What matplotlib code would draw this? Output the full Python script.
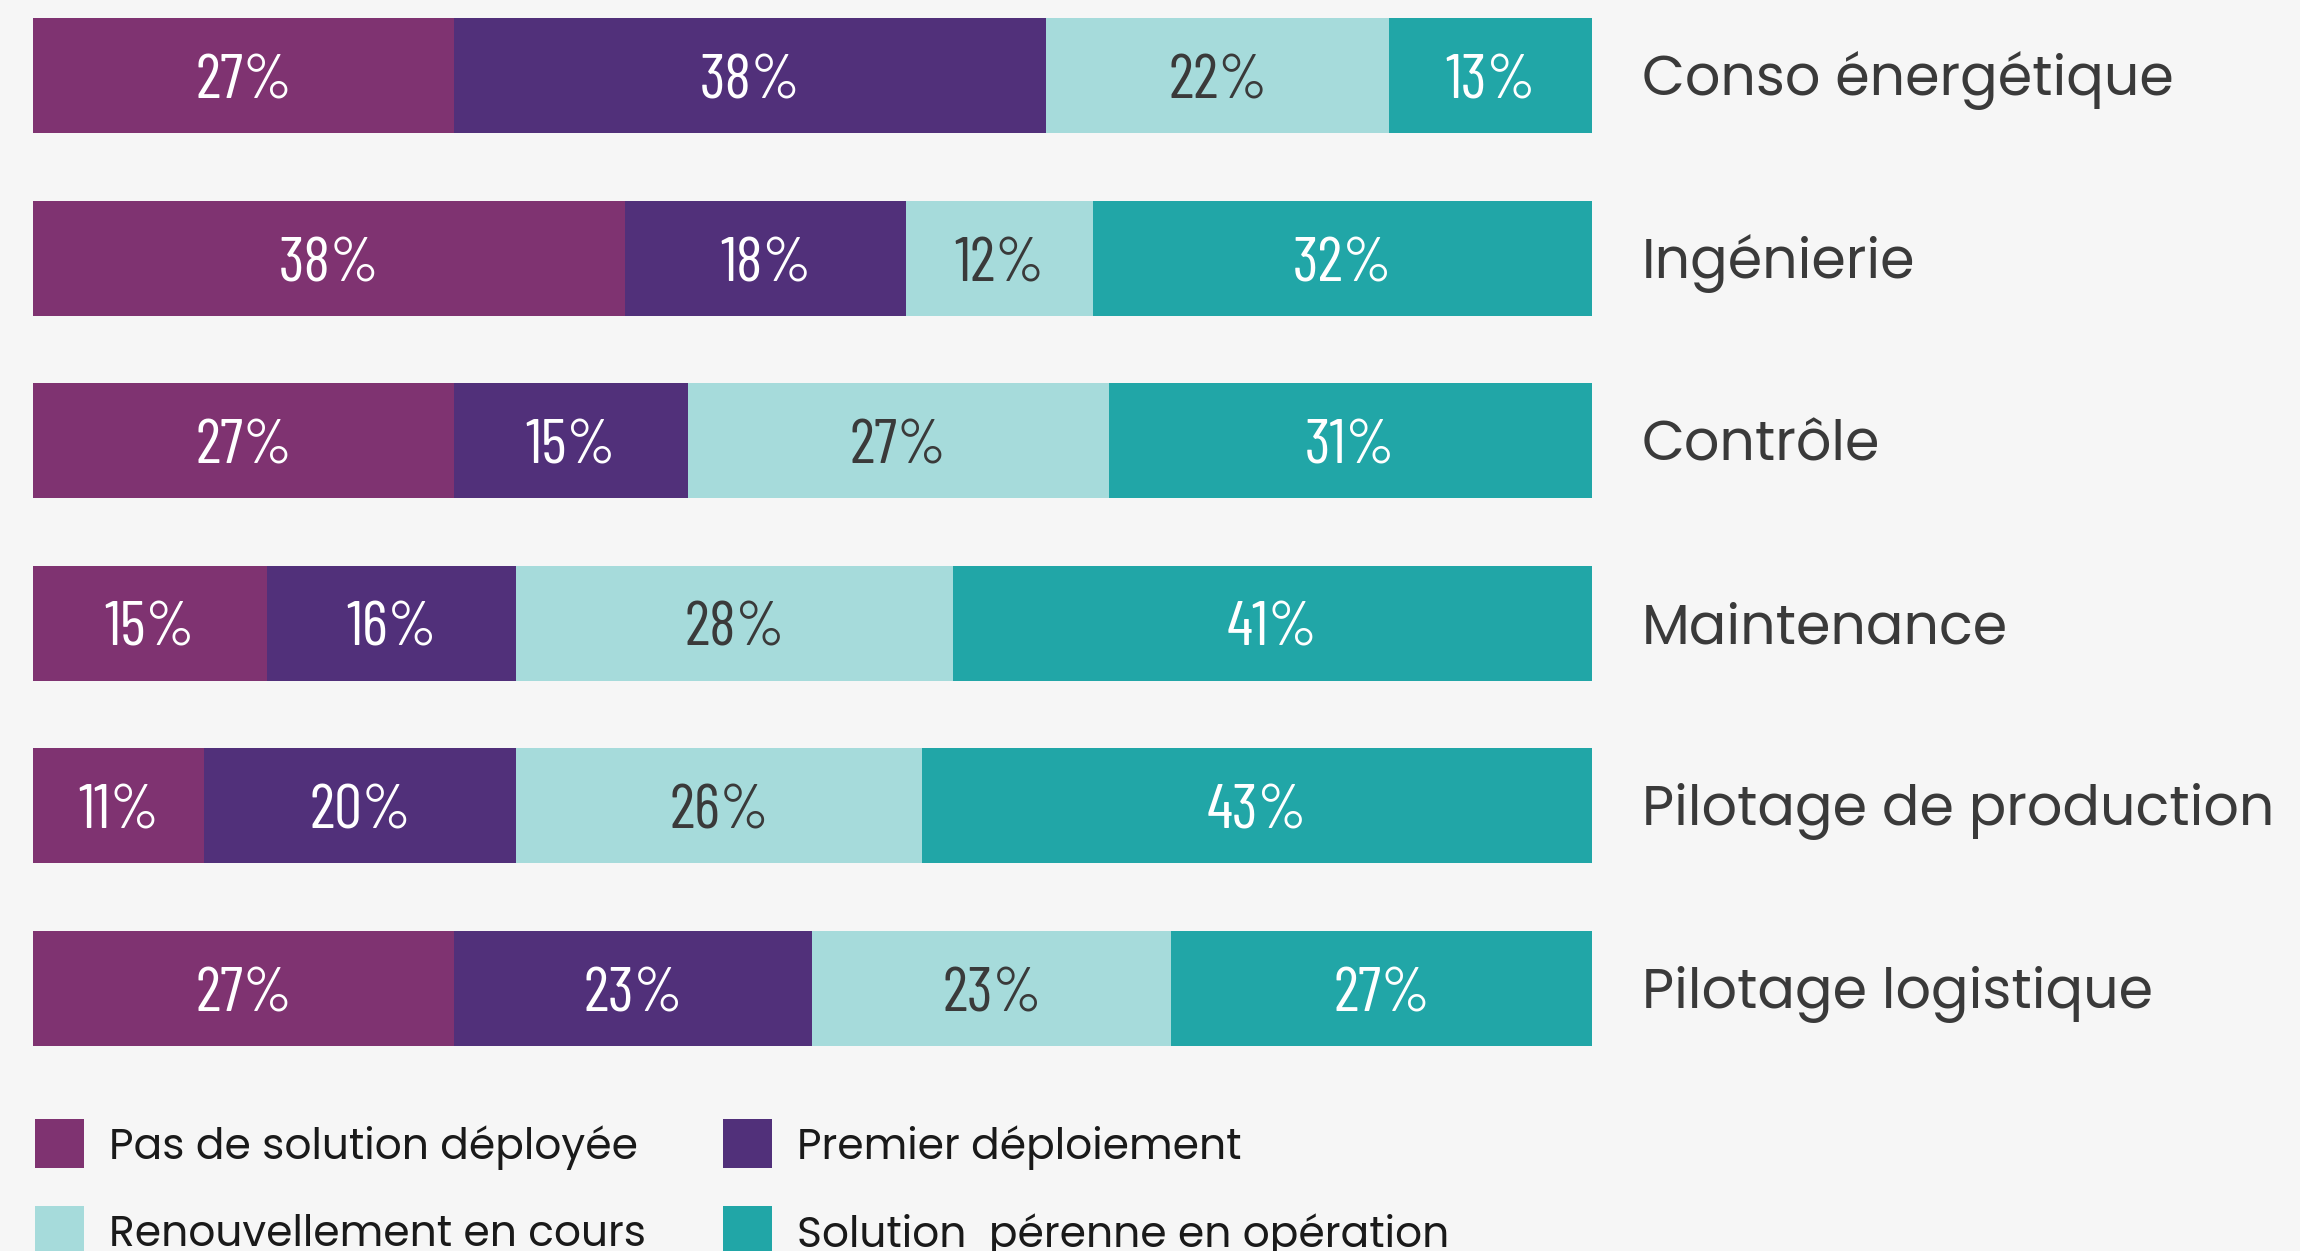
import matplotlib
matplotlib.use("Agg")
import matplotlib.pyplot as plt
from matplotlib.patches import Rectangle
import numpy as np

categories = ["Conso énergétique", "Ingénierie", "Contrôle", "Maintenance",
              "Pilotage de production", "Pilotage logistique"]
series_names = ["Pas de solution déployée", "Premier déploiement",
                "Renouvellement en cours", "Solution  pérenne en opération"]
pas_de_solution = [27, 38, 27, 15, 11, 27]
premier_deploiement = [38, 18, 15, 16, 20, 23]
renouvellement = [22, 12, 27, 28, 26, 23]
solution_perenne = [13, 32, 31, 41, 43, 27]

colors = ["#7F3371", "#51307A", "#A6DBDB", "#21A6A7"]
text_colors = ["white", "white", "#3a3a3a", "white"]
bg = "#F6F6F6"

num_font = ["Barlow Condensed", "DejaVu Sans"]
label_font = ["Poppins", "DejaVu Sans"]

W, H = 2300, 1251
fig = plt.figure(figsize=(W / 100, H / 100), dpi=100, facecolor=bg)

x0, x1 = 33, 1592
ax = fig.add_axes([x0 / W, 0, (x1 - x0) / W, 1])
ax.set_facecolor(bg)
step = 182.5
first_center = 75.5
ax.set_xlim(0, 100)
ax.set_ylim(5 + (H - (first_center + 5 * step)) / step, -first_center / step)
ax.axis("off")

px = 72 / 100  # pixels -> points

y = np.arange(len(categories))
left = np.zeros(len(categories))
all_series = [pas_de_solution, premier_deploiement, renouvellement, solution_perenne]
for vals, col, tcol in zip(all_series, colors, text_colors):
    vals = np.array(vals, dtype=float)
    ax.barh(y, vals, left=left, height=115 / step, color=col, linewidth=0)
    for yi, l, v in zip(y, left, vals):
        ax.annotate(f"{int(v)}%", xy=(l + v / 2, yi), xytext=(0, -23 * px),
                    textcoords="offset points", ha="center", va="baseline",
                    fontsize=45, color=tcol, family=num_font, fontweight="normal")
    left += vals

for yi, cat in zip(y, categories):
    ax.annotate(cat, xy=(100, yi), xytext=(50 * px, -20 * px),
                textcoords="offset points", ha="left", va="baseline",
                fontsize=40, color="#3a3a3a", family=label_font,
                fontweight="normal", annotation_clip=False)

# legend, two columns
leg_x = [35, 723]
leg_y = [1119, 1206]
size = 49
for k, (name, col) in enumerate(zip(series_names, colors)):
    r, c = divmod(k, 2)
    lx, ly = leg_x[c], leg_y[r]
    fig.patches.append(Rectangle((lx / W, 1 - (ly + size) / H), size / W, size / H,
                                 transform=fig.transFigure, color=col, linewidth=0))
    fig.text((lx + 74) / W, 1 - (ly + size / 2 + 16) / H, name, ha="left",
             va="baseline", fontsize=30.5, color="#1a1a1a", family=label_font,
             fontweight="normal")

fig.savefig("out.png", dpi=100, facecolor=bg)
